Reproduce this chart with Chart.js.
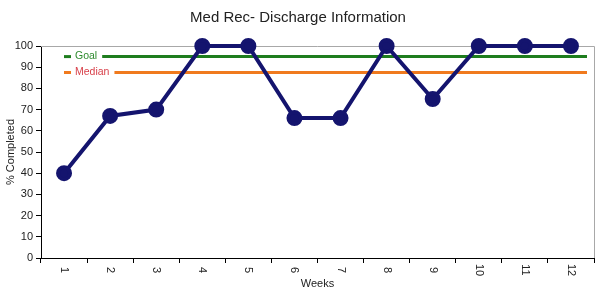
<!DOCTYPE html>
<html><head><meta charset="utf-8">
<script src="https://cdn.jsdelivr.net/npm/chart.js@4/dist/chart.umd.min.js"></script>
<style>html,body{margin:0;padding:0;background:#fff}#wrap{width:604px;height:296px}</style>
</head><body><div id="wrap"><canvas id="c" width="604" height="296"></canvas></div>
<script>
const weeks = ["1","2","3","4","5","6","7","8","9","10","11","12"];
const completed = [40, 67, 70, 100, 100, 66, 66, 100, 75, 100, 100, 100];
const goalValue = 95;
const medianValue = 87.5;
const yTicks = [0,10,20,30,40,50,60,70,80,90,100];

const FONT = "'Liberation Sans', Arial, sans-serif";

const extras = {
  id: 'extras',
  beforeDatasetsDraw(chart) {
    const ctx = chart.ctx, ca = chart.chartArea;
    const ys = chart.scales.y;
    ctx.save();
    // gray frame top & right
    ctx.strokeStyle = '#a8a8a8'; ctx.lineWidth = 1;
    ctx.beginPath();
    ctx.moveTo(ca.left, ca.top + 0.5); ctx.lineTo(ca.right + 0.5, ca.top + 0.5); ctx.lineTo(ca.right + 0.5, ca.bottom);
    ctx.stroke();
    // reference lines with inline labels
    const refs = [
      {label: 'Goal', v: goalValue, line: '#1e7d1e', text: '#2e8b2e'},
      {label: 'Median', v: medianValue, line: '#f07a1e', text: '#d8404a'}
    ];
    ctx.font = '10.5px ' + FONT;
    ctx.textBaseline = 'middle'; ctx.textAlign = 'left';
    refs.forEach(r => {
      const y = ys.getPixelForValue(r.v);
      ctx.strokeStyle = r.line; ctx.lineWidth = 3;
      ctx.beginPath(); ctx.moveTo(ca.left + 23, y); ctx.lineTo(ca.left + 30, y); ctx.stroke();
      ctx.fillStyle = r.text;
      ctx.fillText(r.label, ca.left + 34, y);
      const w = ctx.measureText(r.label).width;
      ctx.beginPath(); ctx.moveTo(ca.left + 39 + w, y); ctx.lineTo(ca.right - 7, y); ctx.stroke();
    });
    ctx.restore();
  },
  afterDraw(chart) {
    const ctx = chart.ctx, ca = chart.chartArea;
    const xs = chart.scales.x;
    ctx.save();
    // x labels rotated clockwise
    ctx.fillStyle = '#222'; ctx.font = '11px ' + FONT;
    ctx.textAlign = 'center'; ctx.textBaseline = 'middle';
    weeks.forEach((w, i) => {
      const x = xs.getPixelForValue(i);
      ctx.save(); ctx.translate(x, ca.bottom + 12); ctx.rotate(Math.PI / 2);
      ctx.fillText(w, 0, 0); ctx.restore();
    });
    ctx.restore();
  }
};

new Chart(document.getElementById('c'), {
  type: 'line',
  data: {
    labels: weeks,
    datasets: [{
      data: completed,
      borderColor: '#14146e', backgroundColor: '#14146e',
      borderWidth: 4, pointRadius: 6, pointHoverRadius: 6,
      tension: 0, clip: false
    }]
  },
  options: {
    responsive: false, animation: false,
    layout: {padding: {left: 0, right: 8, top: 0, bottom: 0}},
    plugins: {
      legend: {display: false}, tooltip: {enabled: false},
      title: {display: true, text: 'Med Rec- Discharge Information', color: '#222',
        font: {family: FONT, size: 15, weight: 'normal'}, padding: {top: 9, bottom: 19}}
    },
    scales: {
      x: {
        offset: true,
        grid: {display: true, drawOnChartArea: false, offset: true, tickLength: 5, color: '#000'},
        border: {color: '#000', width: 1},
        ticks: {display: false},
        title: {display: true, text: 'Weeks', color: '#222', font: {family: FONT, size: 11}, padding: {top: 0, bottom: 5}},
        afterFit(s) { s.height = 38; }
      },
      y: {
        min: 0, max: 100,
        afterBuildTicks(s) { s.ticks = yTicks.map(v => ({value: v})); },
        grid: {display: true, drawOnChartArea: false, tickLength: 5, color: '#000'},
        border: {color: '#000', width: 1},
        ticks: {color: '#222', font: {family: FONT, size: 11}, padding: 3},
        title: {display: true, text: '% Completed', color: '#222', font: {family: FONT, size: 11}, padding: {top: 4, bottom: 0}},
        afterFit(s) { s.width = 41; }
      }
    }
  },
  plugins: [extras]
});
</script></body></html>
